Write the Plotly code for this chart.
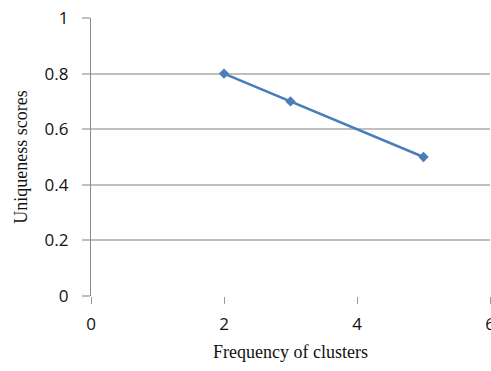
import plotly.graph_objects as go

x_vals = [2, 3, 5]
y_vals = [0.8, 0.7, 0.5]
x_ticks = [0, 2, 4, 6]
y_ticks = [0, 0.2, 0.4, 0.6, 0.8, 1]
y_tick_text = ["0", "0.2", "0.4", "0.6", "0.8", "1"]

fig = go.Figure()
fig.add_trace(go.Scatter(
    x=x_vals, y=y_vals, mode="lines+markers",
    line=dict(color="#4a7ebb", width=2.5),
    marker=dict(symbol="diamond", size=8, color="#4a7ebb"),
    showlegend=False,
))

fig.update_layout(
    width=491, height=371,
    margin=dict(l=91, r=1, t=18, b=75),
    plot_bgcolor="white", paper_bgcolor="white",
    font=dict(family="Open Sans, Liberation Sans, sans-serif", size=17, color="#111"),
)
fig.update_xaxes(
    range=[0, 6], tickvals=x_ticks, showgrid=False, zeroline=False,
    showline=False, ticks="outside", ticklen=7, tickcolor="#9a9a9a", tickwidth=1,
    ticklabelstandoff=6, ticklabeloverflow="allow", automargin=False,
    title=dict(text="Frequency of clusters", font=dict(family="Liberation Serif, Times New Roman, serif", size=18, color="#111"), standoff=10),
)
fig.update_yaxes(
    range=[0, 1], tickvals=y_ticks, ticktext=y_tick_text,
    showgrid=True, gridcolor="#bfbfbf", gridwidth=1.5, zeroline=False,
    showline=True, linecolor="#8a8a8a", linewidth=1.2,
    ticks="outside", ticklen=8, tickcolor="#bfbfbf", tickwidth=1.5,
    ticklabelstandoff=10, automargin=False,
    title=dict(text="Uniqueness scores", font=dict(family="Liberation Serif, Times New Roman, serif", size=18, color="#111"), standoff=12),
)

fig.write_html("out.html")
